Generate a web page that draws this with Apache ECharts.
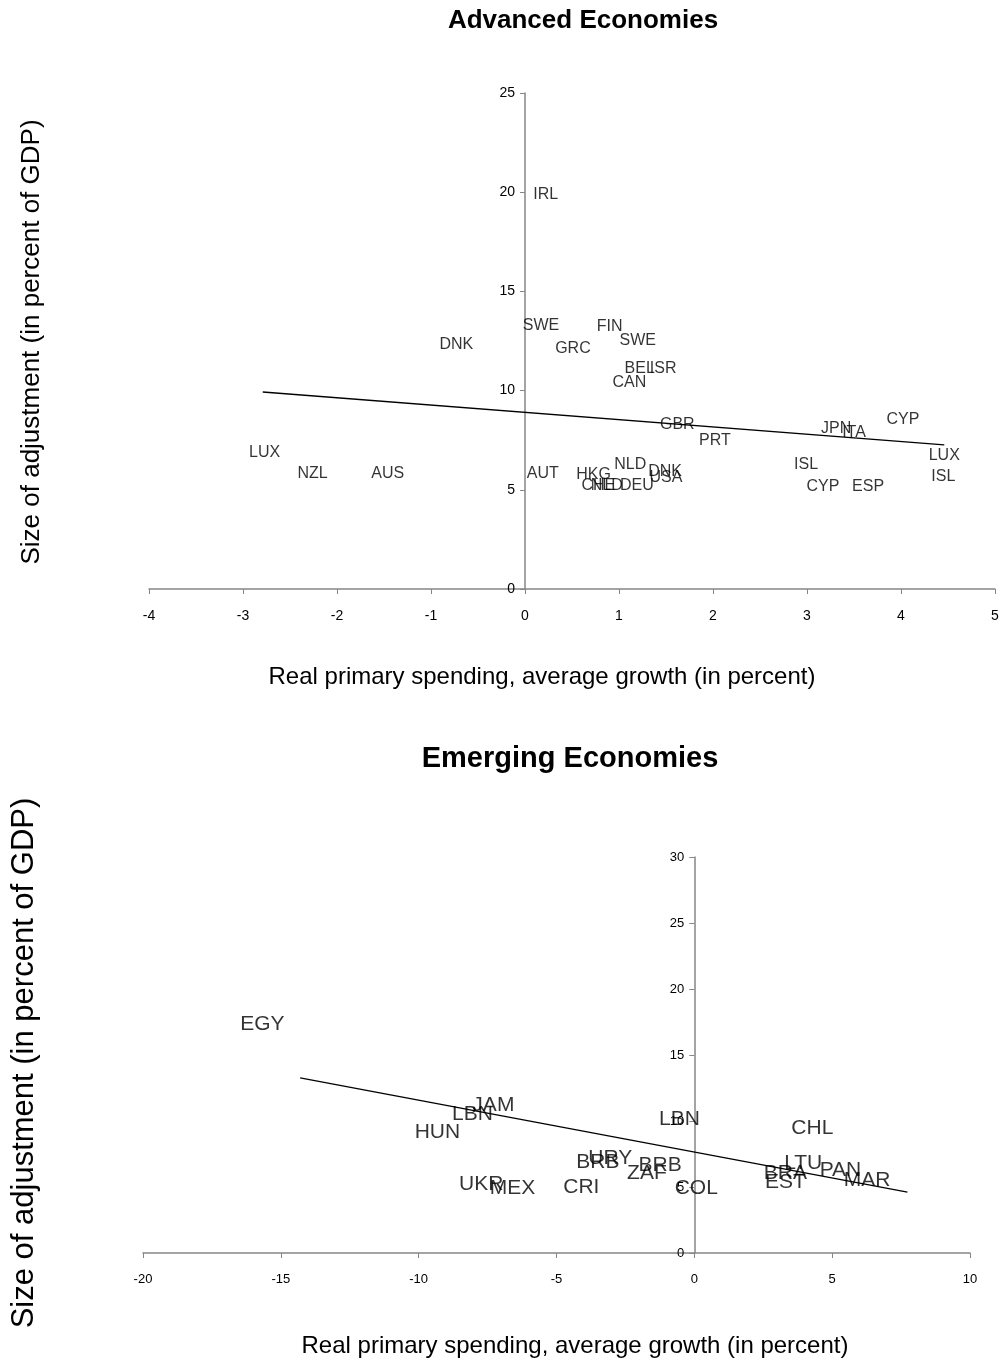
<!DOCTYPE html>
<html>
<head>
<meta charset="utf-8">
<script src="https://cdn.jsdelivr.net/npm/echarts@6/dist/echarts.min.js"></script>
<style>
  html, body { margin: 0; padding: 0; background: #fff; }
  #chart { width: 1003px; height: 1363px; }
</style>
</head>
<body>
<div id="chart"></div>
<script>
// Advanced economies (label placed at each point)
const advNames = ['IRL', 'SWE', 'DNK', 'GRC', 'FIN', 'SWE', 'BEL', 'ISR', 'CAN', 'GBR',
                  'PRT', 'JPN', 'ITA', 'CYP', 'LUX', 'ISL', 'ISL', 'CYP', 'ESP', 'LUX',
                  'NZL', 'AUS', 'AUT', 'HKG', 'NLD', 'DNK', 'USA', 'CHE', 'NLD', 'DEU'];
const advX = [0.22, 0.17, -0.73, 0.51, 0.90, 1.20, 1.22, 1.47, 1.11, 1.62,
              2.02, 3.31, 3.50, 4.02, 4.46, 4.45, 2.99, 3.17, 3.65, -2.77,
              -2.26, -1.46, 0.19, 0.73, 1.12, 1.49, 1.50, 0.78, 0.87, 1.19];
const advY = [19.9, 13.3, 12.3, 12.1, 13.25, 12.5, 11.1, 11.1, 10.4, 8.27,
              7.46, 8.06, 7.86, 8.52, 6.7, 5.65, 6.25, 5.14, 5.14, 6.9,
              5.8, 5.8, 5.8, 5.75, 6.25, 5.9, 5.6, 5.2, 5.2, 5.2];
const advTrendX = [-2.79, 4.46];
const advTrendY = [9.93, 7.26];

// Emerging economies
const emgNames = ['EGY', 'JAM', 'LBN', 'HUN', 'LBN', 'CHL', 'URY', 'BRB', 'BRB', 'ZAF',
                  'UKR', 'MEX', 'CRI', 'COL', 'LTU', 'PAN', 'BRA', 'EST', 'MAR'];
const emgX = [-15.67, -7.29, -8.05, -9.32, -0.54, 4.28, -3.05, -3.50, -1.24, -1.72,
              -7.73, -6.60, -4.10, 0.07, 3.95, 5.30, 3.30, 3.30, 6.27];
const emgY = [17.3, 11.2, 10.5, 9.17, 10.15, 9.47, 7.2, 6.9, 6.65, 6.06,
              5.2, 4.9, 5.0, 4.9, 6.8, 6.3, 6.05, 5.4, 5.5];
const emgTrendX = [-14.3, 7.73];
const emgTrendY = [13.26, 4.62];

const FONT = '"Liberation Sans", Arial, sans-serif';
const AXIS_COLOR = '#868686';

const toPoints = (xs, ys, names) => xs.map((x, i) => names ? [x, ys[i], names[i]] : [x, ys[i]]);

const labelSeries = (idx, xs, ys, names, size) => ({
  type: 'scatter',
  xAxisIndex: idx,
  yAxisIndex: idx,
  data: toPoints(xs, ys, names),
  symbolSize: 0,
  itemStyle: { color: '#000' },
  label: {
    show: true,
    position: 'inside',
    formatter: (p) => p.value[2],
    color: '#000',
    fontFamily: FONT,
    fontSize: size
  },
  silent: true
});

const trendSeries = (idx, xs, ys) => ({
  type: 'line',
  xAxisIndex: idx,
  yAxisIndex: idx,
  data: toPoints(xs, ys),
  showSymbol: false,
  lineStyle: { color: '#000', width: 1.3 },
  silent: true
});

const xAxisCfg = (idx, min, max, interval, size) => ({
  type: 'value',
  gridIndex: idx,
  min: min,
  max: max,
  interval: interval,
  splitLine: { show: false },
  axisLine: { onZero: false, lineStyle: { color: AXIS_COLOR, width: 1.5 } },
  axisTick: { show: true, length: 5, lineStyle: { color: AXIS_COLOR } },
  axisLabel: { color: '#000', fontFamily: FONT, fontSize: size, margin: 20 }
});

// y axis sits at x = 0, shifted right from the grid's left edge
const yAxisCfg = (idx, min, max, interval, shift, size) => ({
  type: 'value',
  gridIndex: idx,
  position: 'left',
  offset: -shift,
  min: min,
  max: max,
  interval: interval,
  splitLine: { show: false },
  axisLine: { onZero: false, lineStyle: { color: AXIS_COLOR, width: 1.5 } },
  axisTick: { show: true, length: 5, lineStyle: { color: AXIS_COLOR } },
  axisLabel: { color: '#000', fontFamily: FONT, fontSize: size, margin: 10 }
});

const chart = echarts.init(document.getElementById('chart'));

chart.setOption({
  backgroundColor: '#fff',
  animation: false,
  title: [
    { text: 'Advanced Economies', left: 578, top: 3, textAlign: 'center',
      textStyle: { fontFamily: FONT, fontSize: 26, fontWeight: 'bold', color: '#000' } },
    { text: 'Emerging Economies', left: 565, top: 739, textAlign: 'center',
      textStyle: { fontFamily: FONT, fontSize: 29, fontWeight: 'bold', color: '#000' } }
  ],
  grid: [
    { left: 149, top: 93, width: 846, height: 496 },
    { left: 143, top: 857, width: 827, height: 396 }
  ],
  xAxis: [xAxisCfg(0, -4, 5, 1, 14), xAxisCfg(1, -20, 10, 5, 13)],
  yAxis: [yAxisCfg(0, 0, 25, 5, 376, 14), yAxisCfg(1, 0, 30, 5, 551.3, 13)],
  graphic: [
    { type: 'text', x: 542, y: 677, style: { text: 'Real primary spending, average growth (in percent)',
      font: '24px ' + FONT, fill: '#000', textAlign: 'center', textVerticalAlign: 'middle' } },
    { type: 'text', x: 575, y: 1346, style: { text: 'Real primary spending, average growth (in percent)',
      font: '24px ' + FONT, fill: '#000', textAlign: 'center', textVerticalAlign: 'middle' } },
    { type: 'text', x: 32, y: 342, rotation: Math.PI / 2, style: { text: 'Size of adjustment (in percent of GDP)',
      font: '26px ' + FONT, fill: '#000', textAlign: 'center', textVerticalAlign: 'middle' } },
    { type: 'text', x: 24, y: 1063, rotation: Math.PI / 2, style: { text: 'Size of adjustment (in percent of GDP)',
      font: '31px ' + FONT, fill: '#000', textAlign: 'center', textVerticalAlign: 'middle' } }
  ],
  series: [
    labelSeries(0, advX, advY, advNames, 16),
    trendSeries(0, advTrendX, advTrendY),
    labelSeries(1, emgX, emgY, emgNames, 21),
    trendSeries(1, emgTrendX, emgTrendY)
  ]
});
</script>
</body>
</html>
